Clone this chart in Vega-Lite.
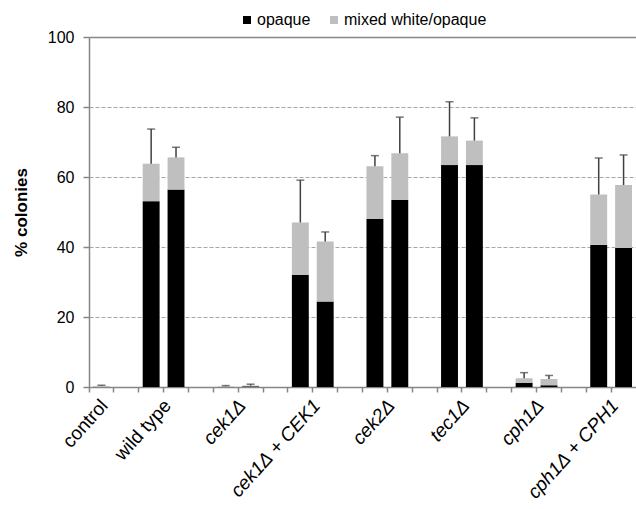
{
  "$schema": "https://vega.github.io/schema/vega-lite/v6.json",
  "width": 547,
  "height": 350,
  "autosize": "none",
  "padding": {"left": 89, "top": 37, "right": 0, "bottom": 122},
  "config": {"font": "Liberation Sans", "view": {"stroke": null}},
  "datasets": {
    "bars": [
      {"slot": "control", "series": "opaque", "pct": 0},
      {"slot": "control", "series": "mixed white/opaque", "pct": 0.3},
      {"slot": "wild type|1", "series": "opaque", "pct": 53.1},
      {"slot": "wild type|1", "series": "mixed white/opaque", "pct": 10.7},
      {"slot": "wild type|2", "series": "opaque", "pct": 56.4},
      {"slot": "wild type|2", "series": "mixed white/opaque", "pct": 9.2},
      {"slot": "cek1Δ|1", "series": "opaque", "pct": 0},
      {"slot": "cek1Δ|1", "series": "mixed white/opaque", "pct": 0.2},
      {"slot": "cek1Δ|2", "series": "opaque", "pct": 0.2},
      {"slot": "cek1Δ|2", "series": "mixed white/opaque", "pct": 0.2},
      {"slot": "cek1Δ + CEK1|1", "series": "opaque", "pct": 32.0},
      {"slot": "cek1Δ + CEK1|1", "series": "mixed white/opaque", "pct": 15.0},
      {"slot": "cek1Δ + CEK1|2", "series": "opaque", "pct": 24.4},
      {"slot": "cek1Δ + CEK1|2", "series": "mixed white/opaque", "pct": 17.2},
      {"slot": "cek2Δ|1", "series": "opaque", "pct": 48.1},
      {"slot": "cek2Δ|1", "series": "mixed white/opaque", "pct": 15.0},
      {"slot": "cek2Δ|2", "series": "opaque", "pct": 53.5},
      {"slot": "cek2Δ|2", "series": "mixed white/opaque", "pct": 13.3},
      {"slot": "tec1Δ|1", "series": "opaque", "pct": 63.4},
      {"slot": "tec1Δ|1", "series": "mixed white/opaque", "pct": 8.2},
      {"slot": "tec1Δ|2", "series": "opaque", "pct": 63.4},
      {"slot": "tec1Δ|2", "series": "mixed white/opaque", "pct": 7.0},
      {"slot": "cph1Δ|1", "series": "opaque", "pct": 1.2},
      {"slot": "cph1Δ|1", "series": "mixed white/opaque", "pct": 1.3},
      {"slot": "cph1Δ|2", "series": "opaque", "pct": 0.5},
      {"slot": "cph1Δ|2", "series": "mixed white/opaque", "pct": 1.8},
      {"slot": "cph1Δ + CPH1|1", "series": "opaque", "pct": 40.6},
      {"slot": "cph1Δ + CPH1|1", "series": "mixed white/opaque", "pct": 14.4},
      {"slot": "cph1Δ + CPH1|2", "series": "opaque", "pct": 39.7},
      {"slot": "cph1Δ + CPH1|2", "series": "mixed white/opaque", "pct": 18.0}
    ],
    "errors": [
      {"slot": "control", "total": 0.3, "upper": 0.5},
      {"slot": "wild type|1", "total": 63.8, "upper": 73.7},
      {"slot": "wild type|2", "total": 65.6, "upper": 68.5},
      {"slot": "cek1Δ|1", "total": 0.2, "upper": 0.4},
      {"slot": "cek1Δ|2", "total": 0.4, "upper": 0.8},
      {"slot": "cek1Δ + CEK1|1", "total": 47.0, "upper": 59.1},
      {"slot": "cek1Δ + CEK1|2", "total": 41.6, "upper": 44.3},
      {"slot": "cek2Δ|1", "total": 63.1, "upper": 66.1},
      {"slot": "cek2Δ|2", "total": 66.8, "upper": 77.1},
      {"slot": "tec1Δ|1", "total": 71.6, "upper": 81.5},
      {"slot": "tec1Δ|2", "total": 70.4, "upper": 76.9},
      {"slot": "cph1Δ|1", "total": 2.5, "upper": 4.1},
      {"slot": "cph1Δ|2", "total": 2.3, "upper": 3.3},
      {"slot": "cph1Δ + CPH1|1", "total": 55.0, "upper": 65.4},
      {"slot": "cph1Δ + CPH1|2", "total": 57.7, "upper": 66.3}
    ]
  },
  "layer": [
    {
      "data": {"name": "bars"},
      "mark": {"type": "bar", "width": {"band": 0.68}},
      "encoding": {
        "x": {
          "field": "slot",
          "type": "nominal",
          "scale": {
            "domain": ["control", "gap1", "wild type|1", "wild type|2", "gap2", "cek1Δ|1", "cek1Δ|2", "gap3", "cek1Δ + CEK1|1", "cek1Δ + CEK1|2", "gap4", "cek2Δ|1", "cek2Δ|2", "gap5", "tec1Δ|1", "tec1Δ|2", "gap6", "cph1Δ|1", "cph1Δ|2", "gap7", "cph1Δ + CPH1|1", "cph1Δ + CPH1|2"],
            "paddingInner": 0,
            "paddingOuter": 0
          },
          "axis": {
            "title": null,
            "bandPosition": 0,
            "labelExpr": "datum.value == 'control' ? 'control' : (indexof(datum.value, '|1') > 0 ? split(datum.value, '|')[0] : '')",
            "labelAngle": -48,
            "labelAlign": "right",
            "labelBaseline": "middle",
            "labelFontSize": 19,
            "labelColor": "#000000",
            "labelPadding": 10,
            "labelOverlap": false,
            "labelLimit": 0,
            "labelOffset": {"condition": {"test": "datum.value == 'control'", "value": 3}, "value": 16.5},
            "labelFontStyle": {"condition": {"test": "datum.value == 'control' || datum.value == 'wild type|1'", "value": "normal"}, "value": "italic"},
            "tickSize": 5,
            "tickColor": "#868686",
            "tickWidth": 1.5,
            "domainColor": "#868686",
            "domainWidth": 1.5,
            "grid": false
          }
        },
        "y": {
          "field": "pct",
          "type": "quantitative",
          "stack": "zero",
          "scale": {"domain": [0, 100], "nice": false},
          "axis": {
            "values": [0, 20, 40, 60, 80, 100],
            "title": "% colonies",
            "titleFontSize": 17,
            "titleFontWeight": "bold",
            "titleColor": "#000000",
            "titlePadding": 17,
            "labelFontSize": 16,
            "labelColor": "#000000",
            "labelPadding": 9,
            "tickSize": 6,
            "tickColor": "#868686",
            "tickWidth": 1.5,
            "domainColor": "#868686",
            "domainWidth": 1.5,
            "grid": true,
            "gridColor": {"condition": {"test": "datum.value == 100", "value": "#868686"}, "value": "#a6a6a6"},
            "gridDash": {"condition": {"test": "datum.value == 100", "value": [1, 0]}, "value": [4, 2]},
            "gridWidth": {"condition": {"test": "datum.value == 100", "value": 1.5}, "value": 1}
          }
        },
        "color": {
          "field": "series",
          "type": "nominal",
          "scale": {"domain": ["opaque", "mixed white/opaque"], "range": ["#000000", "#bfbfbf"]},
          "legend": {
            "title": null,
            "orient": "none",
            "legendX": 150,
            "legendY": -25,
            "direction": "horizontal",
            "symbolType": "square",
            "symbolSize": 64,
            "symbolStrokeWidth": 0,
            "labelFontSize": 16,
            "labelColor": "#000000",
            "labelOffset": 2,
            "columnPadding": 15
          }
        },
        "order": {"field": "series", "sort": "descending"}
      }
    },
    {
      "data": {"name": "errors"},
      "mark": {"type": "rule", "color": "#404040", "strokeWidth": 1.5},
      "encoding": {
        "x": {"field": "slot", "type": "nominal"},
        "y": {"field": "total", "type": "quantitative"},
        "y2": {"field": "upper"}
      }
    },
    {
      "data": {"name": "errors"},
      "mark": {"type": "tick", "color": "#404040", "thickness": 1.5, "size": 8},
      "encoding": {
        "x": {"field": "slot", "type": "nominal"},
        "y": {"field": "upper", "type": "quantitative"}
      }
    }
  ]
}
